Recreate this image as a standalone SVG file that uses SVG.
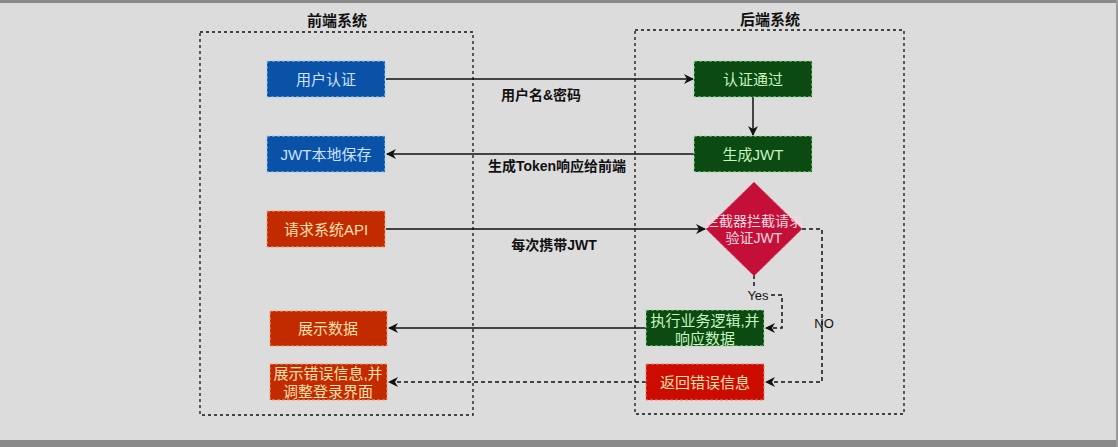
<svg xmlns="http://www.w3.org/2000/svg" width="1118" height="447" viewBox="0 0 1118 447">
<style>
text{font-family:"Liberation Sans","Noto Sans CJK SC",sans-serif;font-size:15px;text-anchor:middle;dominant-baseline:central}
.title{font-weight:bold;font-size:15px;fill:#111}
.lbl{font-weight:bold;font-size:14px;fill:#111}
.cont{fill:none;stroke:#111;stroke-width:1.3;stroke-dasharray:3 3}
.blue{fill:#0a52a8;stroke:#9cc7ee;stroke-dasharray:3 2}
.green{fill:#0b4a10;stroke:#9be09b;stroke-dasharray:3 2}
.orange{fill:#c22a00;stroke:#f2a070;stroke-dasharray:3 2}
.red{fill:#cc0c00;stroke:#f08070;stroke-dasharray:3 2}
.tb{fill:#cfe2ff}
.tg{fill:#c8f5c0}
.to{fill:#ffe0b0}
.solid{fill:none;stroke:#111;stroke-width:1.5}
.dash{fill:none;stroke:#111;stroke-width:1.5;stroke-dasharray:4 3}
</style>
<defs>
<marker id="ah" markerWidth="10" markerHeight="10" refX="9" refY="5" orient="auto" markerUnits="userSpaceOnUse">
<path d="M0,0 L10,5 L0,10 L3,5 Z" fill="#111"/>
</marker>
</defs>
<rect width="1118" height="447" fill="#dcdcdc"/>
<rect width="1118" height="3" fill="#8a8a8a"/>
<rect y="440" width="1118" height="7" fill="#8a8a8a"/>
<rect x="1116" width="2" height="447" fill="#9a9a9a"/>

<g id="frontend">
<rect class="cont" x="200" y="32" width="273" height="383"/>
<text class="title" x="337" y="20">前端系统</text>
</g>
<g id="backend">
<rect class="cont" x="635" y="30" width="269" height="384"/>
<text class="title" x="770" y="19">后端系统</text>
</g>

<g id="connectors">
<line class="solid" x1="386" y1="79" x2="693" y2="79" marker-end="url(#ah)"/>
<text class="lbl" x="541" y="95">用户名&amp;密码</text>
<line class="solid" x1="753" y1="97" x2="753" y2="135" marker-end="url(#ah)"/>
<line class="solid" x1="694" y1="154" x2="387" y2="154" marker-end="url(#ah)"/>
<text class="lbl" x="557" y="166">生成Token响应给前端</text>
<line class="solid" x1="386" y1="229" x2="705" y2="229" marker-end="url(#ah)"/>
<text class="lbl" x="554" y="245">每次携带JWT</text>
<path class="dash" d="M754,275 V287"/>
<path class="dash" d="M771,295 H782 V328 H766" marker-end="url(#ah)"/>
<text x="758" y="295" style="font-size:13px;fill:#111">Yes</text>
<path class="dash" d="M802,229 H822 V382 H766" marker-end="url(#ah)"/>
<text x="824" y="323" style="font-size:13px;fill:#111">NO</text>
<line class="solid" x1="646" y1="328" x2="389" y2="328" marker-end="url(#ah)"/>
<line class="dash" x1="646" y1="382" x2="389" y2="382" marker-end="url(#ah)"/>
</g>

<g id="n-auth"><rect class="blue" x="267" y="61" width="118" height="36"/><text class="tb" x="326" y="79">用户认证</text></g>
<g id="n-save"><rect class="blue" x="267" y="136" width="118" height="36"/><text class="tb" x="326" y="154">JWT本地保存</text></g>
<g id="n-req"><rect class="orange" x="267" y="211" width="118" height="36"/><text class="to" x="326" y="229">请求系统API</text></g>
<g id="n-show"><rect class="orange" x="270" y="311" width="117" height="35"/><text class="to" x="328" y="328">展示数据</text></g>
<g id="n-showerr"><rect class="orange" x="270" y="364" width="117" height="36"/><text class="to" x="328" y="373">展示错误信息,并</text><text class="to" x="328" y="391">调整登录界面</text></g>

<g id="n-pass"><rect class="green" x="694" y="61" width="118" height="36"/><text class="tg" x="753" y="79">认证通过</text></g>
<g id="n-gen"><rect class="green" x="694" y="136" width="118" height="36"/><text class="tg" x="753" y="154">生成JWT</text></g>
<g id="n-check"><path d="M754,182 L802,229 L754,276 L706,229 Z" fill="#c41039" stroke="#e06080" stroke-dasharray="3 2"/><text x="754" y="221" style="font-size:14px;fill:#f4d8e0">拦截器拦截请求</text><text x="754" y="238" style="font-size:14px;fill:#f4d8e0">验证JWT</text></g>
<g id="n-exec"><rect class="green" x="646" y="310" width="118" height="36"/><text class="tg" x="705" y="320">执行业务逻辑,并</text><text class="tg" x="705" y="338">响应数据</text></g>
<g id="n-err"><rect class="red" x="646" y="364" width="118" height="36"/><text class="to" x="705" y="382">返回错误信息</text></g>
</svg>
